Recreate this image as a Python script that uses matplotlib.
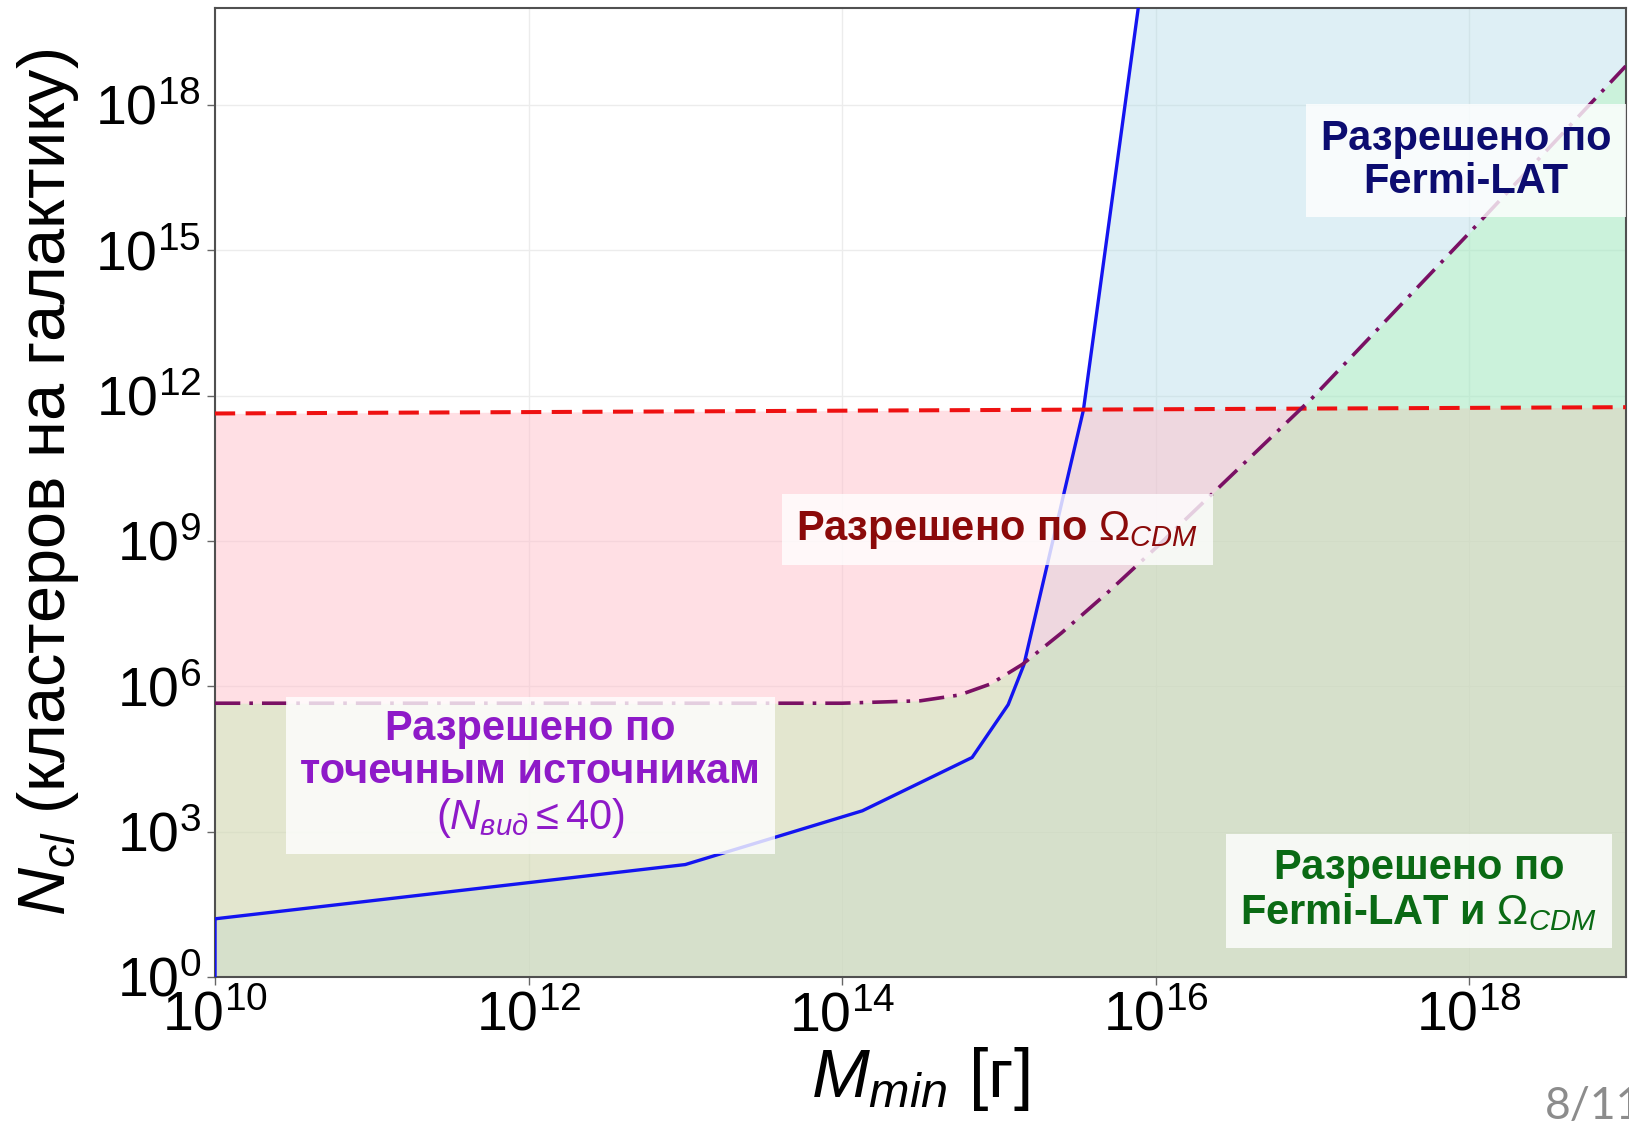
import numpy as np
import matplotlib
matplotlib.use("Agg")
import matplotlib.pyplot as plt
from matplotlib.ticker import LogFormatterSciNotation, NullLocator

plt.rcParams['font.family'] = ['Liberation Sans', 'DejaVu Sans']
plt.rcParams['mathtext.fontset'] = 'custom'
plt.rcParams['mathtext.rm'] = 'Liberation Sans'
plt.rcParams['mathtext.it'] = 'Liberation Sans:italic'
plt.rcParams['mathtext.bf'] = 'Liberation Sans:bold'

# data (log10 values)
# Fermi-LAT limit
fermi_logm = [10.0, 10.0, 13.0, 14.13, 14.83, 15.06, 15.16, 15.54, 15.89, 16.0, 19.0]
fermi_logn = [0.0, 1.20, 2.32, 3.43, 4.53, 5.62, 6.44, 11.70, 20.0, 22.6, 26.0]
# Omega_CDM limit
cdm_logm = [10.0, 19.0]
cdm_logn = [11.63, 11.76]
# point sources limit (N_vis <= 40)
ps_logm = [10.0, 14.0, 14.5, 14.75, 14.95, 15.15, 15.4, 15.7, 16.0, 17.0, 18.0, 19.0]
ps_logn = [5.65, 5.65, 5.70, 5.82, 6.05, 6.45, 7.10, 7.95, 8.85, 11.95, 15.35, 18.80]

xticks = [1e10, 1e12, 1e14, 1e16, 1e18]
yticks = [1e0, 1e3, 1e6, 1e9, 1e12, 1e15, 1e18]

fm, fn = 10.0**np.array(fermi_logm), 10.0**np.array(fermi_logn)
cm, cn = 10.0**np.array(cdm_logm), 10.0**np.array(cdm_logn)
pm, pn = 10.0**np.array(ps_logm), 10.0**np.array(ps_logn)

fig = plt.figure(figsize=(16.29, 11.36), dpi=100)
ax = fig.add_axes([0.132, 0.14, 0.866, 0.853])
ax.set_xscale('log')
ax.set_yscale('log')

ymin = 1.0
ax.fill_between(fm, ymin, fn, color='lightblue', alpha=0.4, lw=0, zorder=1)
ax.fill_between(cm, ymin, cn, color='pink', alpha=0.5, lw=0, zorder=1)
ax.fill_between(pm, ymin, pn, color='palegreen', alpha=0.27, lw=0, zorder=1)

ax.plot(fm, fn, color='#1414f0', lw=2.4, zorder=3)
ax.plot(cm, cn, color='#ee1111', lw=2.9, ls=(0, (5, 2.6)), zorder=3)
ax.plot(pm, pn, color='#7a1064', lw=2.6, ls=(0, (7, 2.5, 1, 2.5)), zorder=3)

ax.set_xlim(1e10, 1e19)
ax.set_ylim(1e0, 1e20)
ax.set_xticks(xticks)
ax.set_yticks(yticks)
ax.xaxis.set_minor_locator(NullLocator())
ax.yaxis.set_minor_locator(NullLocator())
ax.xaxis.set_major_formatter(LogFormatterSciNotation())
ax.yaxis.set_major_formatter(LogFormatterSciNotation())
ax.tick_params(labelsize=40, length=6, width=1, color='#666666', pad=4)
ax.grid(True, color='#ececec', lw=1, zorder=0)
ax.set_axisbelow(True)
for s in ax.spines.values():
    s.set_color('#505050')
    s.set_linewidth(1.5)

ax.set_xlabel('$M_{min}$ [г]', fontsize=50)
ax.set_ylabel('$N_{cl}$ (кластеров на галактику)', fontsize=48)
ax.xaxis.set_label_coords(0.5, -0.07)
ax.yaxis.set_label_coords(-0.095, 0.51)

box = dict(facecolor='white', alpha=0.8, edgecolor='none', boxstyle='square,pad=0.35')
ax.text(10**17.98, 10**16.85, 'Разрешено по\nFermi-LAT', color='#0c0c70', fontsize=30,
        fontweight='bold', ha='center', va='center', linespacing=1.1, bbox=box, zorder=5)
ax.text(10**14.99, 10**9.23, 'Разрешено по $\\Omega_{CDM}$', color='#8b0a0a', fontsize=30,
        fontweight='bold', ha='center', va='center', bbox=box, zorder=5)
ax.text(10**12.01, 10**4.18, 'Разрешено по\nточечным источникам\n$(N_{вид} \\leq 40)$',
        color='#8e1ac8', fontsize=30, fontweight='bold', ha='center', va='center',
        linespacing=1.1, bbox=box, zorder=5)
ax.text(10**17.68, 10**1.78, 'Разрешено по\nFermi-LAT и $\\Omega_{CDM}$', color='#0a6a14',
        fontsize=30, fontweight='bold', ha='center', va='center', linespacing=1.1,
        bbox=box, zorder=5)

fig.text(0.978, 0.026, '8/11', fontsize=32, color='#8c8c8c', ha='center', va='center',
         family=['Lato', 'DejaVu Sans'])

fig.savefig('out.png', dpi=100)
